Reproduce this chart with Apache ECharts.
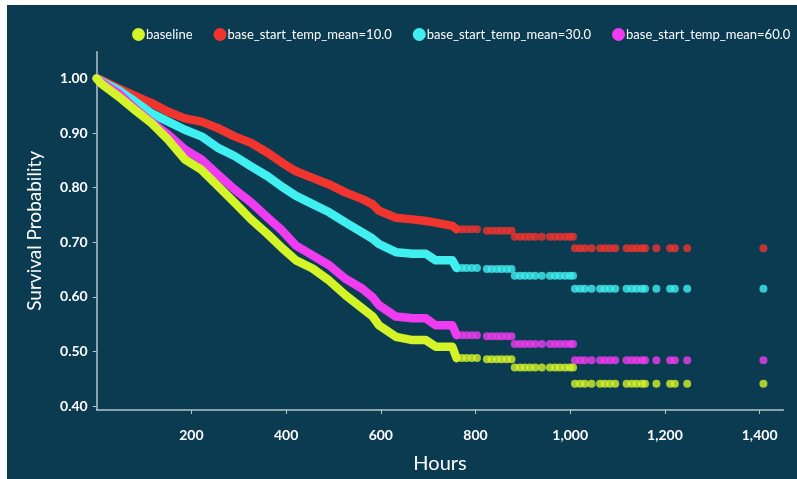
<!DOCTYPE html>
<html>
<head>
<meta charset="utf-8">
<script src="https://cdn.jsdelivr.net/npm/echarts@6/dist/echarts.min.js"></script>
<style>
  html, body { margin: 0; padding: 0; background: #ffffff; }
  #chart { position: absolute; left: 7px; top: 5px; width: 790px; height: 474px; }
</style>
</head>
<body>
<div id="chart"></div>
<script>
// legend names
const names = ['baseline', 'base_start_temp_mean=10.0', 'base_start_temp_mean=30.0', 'base_start_temp_mean=60.0'];
const colors = ['#d4f329', '#f0342e', '#40eff0', '#f03cf0'];

// dense part of the curves (dots touch each other, drawn as a thick band)
const hoursDense = [0, 10, 46, 81, 116, 151, 186, 221, 256, 291, 326, 361, 391, 421, 456, 491, 526, 561, 582, 596, 632, 667, 695, 716, 751, 760];
const baselineDense = [1.0, 0.990, 0.967, 0.942, 0.918, 0.888, 0.852, 0.833, 0.803, 0.773, 0.742, 0.715, 0.690, 0.667, 0.652, 0.630, 0.603, 0.579, 0.565, 0.548, 0.527, 0.521, 0.521, 0.509, 0.509, 0.488];
const temp10Dense = [1.0, 0.997, 0.982, 0.968, 0.955, 0.939, 0.927, 0.921, 0.909, 0.894, 0.882, 0.864, 0.846, 0.830, 0.818, 0.806, 0.791, 0.779, 0.770, 0.758, 0.745, 0.742, 0.739, 0.736, 0.730, 0.724];
const temp30Dense = [1.0, 0.995, 0.979, 0.958, 0.936, 0.921, 0.906, 0.894, 0.873, 0.858, 0.839, 0.821, 0.802, 0.785, 0.770, 0.755, 0.736, 0.718, 0.707, 0.697, 0.682, 0.679, 0.679, 0.667, 0.667, 0.653];
const temp60Dense = [1.0, 0.993, 0.973, 0.945, 0.920, 0.897, 0.870, 0.852, 0.824, 0.797, 0.773, 0.745, 0.722, 0.694, 0.676, 0.658, 0.633, 0.615, 0.600, 0.585, 0.564, 0.561, 0.561, 0.548, 0.548, 0.530];

// sparse tail (separate dots)
const tailHours = [771, 781, 792, 803, 824, 834, 845, 855, 866, 876, 883, 894, 904, 915, 926, 940, 957, 968, 978, 989, 999, 1006, 1010, 1021, 1031, 1045, 1063, 1073, 1084, 1095, 1119, 1130, 1140, 1151, 1158, 1182, 1211, 1221, 1247, 1408];
const baselineTail = [0.488, 0.488, 0.488, 0.488, 0.486, 0.486, 0.486, 0.486, 0.486, 0.486, 0.471, 0.471, 0.471, 0.471, 0.471, 0.471, 0.471, 0.471, 0.471, 0.471, 0.471, 0.471, 0.441, 0.441, 0.441, 0.441, 0.441, 0.441, 0.441, 0.441, 0.441, 0.441, 0.441, 0.441, 0.441, 0.441, 0.441, 0.441, 0.441, 0.441];
const temp10Tail = [0.724, 0.724, 0.724, 0.724, 0.721, 0.721, 0.721, 0.721, 0.721, 0.721, 0.710, 0.710, 0.710, 0.710, 0.710, 0.710, 0.710, 0.710, 0.710, 0.710, 0.710, 0.710, 0.689, 0.689, 0.689, 0.689, 0.689, 0.689, 0.689, 0.689, 0.689, 0.689, 0.689, 0.689, 0.689, 0.689, 0.689, 0.689, 0.689, 0.689];
const temp30Tail = [0.653, 0.653, 0.653, 0.653, 0.651, 0.651, 0.651, 0.651, 0.651, 0.651, 0.639, 0.639, 0.639, 0.639, 0.639, 0.639, 0.639, 0.639, 0.639, 0.639, 0.639, 0.639, 0.615, 0.615, 0.615, 0.615, 0.615, 0.615, 0.615, 0.615, 0.615, 0.615, 0.615, 0.615, 0.615, 0.615, 0.615, 0.615, 0.615, 0.615];
const temp60Tail = [0.530, 0.530, 0.530, 0.530, 0.528, 0.528, 0.528, 0.528, 0.528, 0.528, 0.514, 0.514, 0.514, 0.514, 0.514, 0.514, 0.514, 0.514, 0.514, 0.514, 0.514, 0.514, 0.484, 0.484, 0.484, 0.484, 0.484, 0.484, 0.484, 0.484, 0.484, 0.484, 0.484, 0.484, 0.484, 0.484, 0.484, 0.484, 0.484, 0.484];

// axis ticks
const xTicks = [200, 400, 600, 800, 1000, 1200, 1400];
const yTicks = [0.4, 0.5, 0.6, 0.7, 0.8, 0.9, 1.0];

const dense = [baselineDense, temp10Dense, temp30Dense, temp60Dense];
const tail = [baselineTail, temp10Tail, temp30Tail, temp60Tail];

const zip = (xs, ys) => xs.map((x, i) => [x, ys[i]]);

// draw order: red, cyan, magenta, then baseline on top
const order = [1, 2, 3, 0];
let series = [];
order.forEach(i => {
    series.push({
        name: names[i],
        type: 'line',
        data: zip(hoursDense, dense[i]),
        symbol: 'none',
        lineStyle: { width: 8.5, color: colors[i], cap: 'round', join: 'round' },
        itemStyle: { color: colors[i] }
    });
    series.push({
        name: names[i],
        type: 'scatter',
        data: zip(tailHours, tail[i]),
        symbolSize: 8,
        itemStyle: { color: colors[i] }
    });
});

const axisColor = '#b9c4cc';
let myChart = echarts.init(document.getElementById('chart'));
myChart.setOption({
    animation: false,
    backgroundColor: '#0b3b51',
    legend: {
        data: names,
        icon: 'circle',
        itemWidth: 13,
        itemHeight: 13,
        itemGap: 21,
        padding: 0,
        left: 125,
        top: 23,
        width: 665,
        textStyle: { color: '#ffffff', fontFamily: 'Lato', fontSize: 13, padding: [0, 0, 0, -4] }
    },
    grid: { left: 89.7, right: 13.7, top: 46.7, bottom: 68.3 },
    xAxis: {
        type: 'value',
        min: 0,
        max: 1450,
        name: 'Hours',
        nameLocation: 'middle',
        nameGap: 44,
        nameTextStyle: { color: '#ffffff', fontFamily: 'Lato', fontSize: 20 },
        axisLine: { lineStyle: { color: axisColor, width: 1.5 } },
        axisTick: { show: true, length: 4, customValues: xTicks, lineStyle: { color: axisColor } },
        axisLabel: {
            customValues: xTicks,
            margin: 18,
            color: '#ffffff',
            fontFamily: 'Lato',
            fontWeight: 'bold',
            fontSize: 14,
            formatter: v => v.toLocaleString('en-US')
        },
        splitLine: { show: false }
    },
    yAxis: {
        type: 'value',
        min: 0.393,
        max: 1.049,
        name: 'Survival Probability',
        nameLocation: 'middle',
        nameGap: 52,
        nameTextStyle: { color: '#ffffff', fontFamily: 'Lato', fontSize: 19 },
        axisLine: { show: true, lineStyle: { color: axisColor, width: 1.5 } },
        axisTick: { show: true, length: 4, customValues: yTicks, lineStyle: { color: axisColor } },
        axisLabel: {
            customValues: yTicks,
            margin: 9,
            color: '#ffffff',
            fontFamily: 'Lato',
            fontWeight: 'bold',
            fontSize: 14,
            formatter: v => v.toFixed(2)
        },
        splitLine: { show: false }
    },
    series: series
});
</script>
</body>
</html>
